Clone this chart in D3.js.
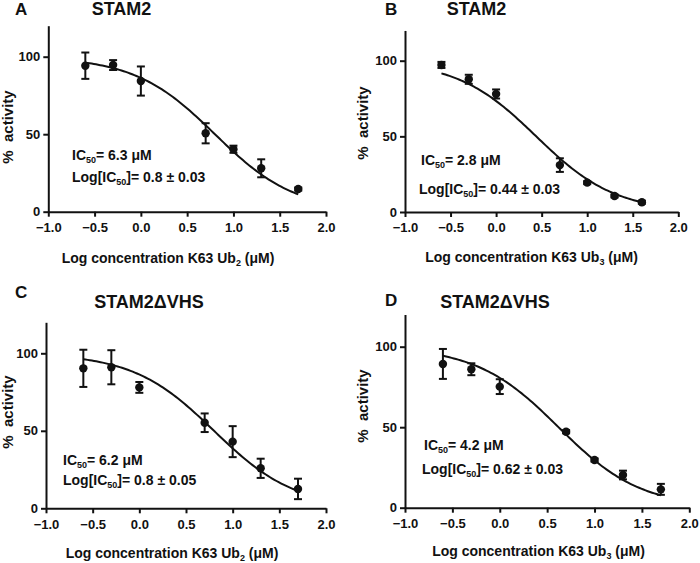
<!DOCTYPE html>
<html>
<head>
<meta charset="utf-8">
<script src="https://cdn.jsdelivr.net/npm/d3@7"></script>
<style>
  body { margin: 0; background: #fff; }
  text { font-family: "Liberation Sans", Arial, sans-serif; font-weight: bold; fill: #111; }
</style>
</head>
<body>
<div id="chart"></div>
<script>
// Dose-response panels (% activity vs log concentration)
const panelLetters = ["A", "B", "C", "D"];
const panelTitles = ["STAM2", "STAM2", "STAM2\u0394VHS", "STAM2\u0394VHS"];
const ubSub = ["2", "3", "2", "3"];

const xTicks = [-1.0, -0.5, 0.0, 0.5, 1.0, 1.5, 2.0];
const yTicks = [0, 50, 100];

const logConcA = [-0.6, -0.3, 0.0, 0.7, 1.0, 1.3, 1.7];
const logConcB = [-0.6, -0.3, 0.0, 0.7, 1.0, 1.3, 1.6];
const logConcC = [-0.6, -0.3, 0.0, 0.7, 1.0, 1.3, 1.7];
const logConcD = [-0.6, -0.3, 0.0, 0.7, 1.0, 1.3, 1.7];

const activityA = [94.2, 94.6, 84.3, 50.6, 40.3, 28.0, 14.6];
const activityB = [97.2, 87.7, 78.0, 31.0, 19.4, 10.6, 6.4];
const activityC = [90.3, 91.0, 78.0, 55.2, 43.0, 25.8, 12.5];
const activityD = [89.3, 86.0, 75.2, 47.2, 29.6, 20.3, 11.4];

const errA = [8.5, 3.2, 9.4, 6.5, 2.3, 5.8, 1.0];
const errB = [2.0, 3.0, 3.0, 4.5, 1.0, 1.0, 1.0];
const errC = [12.0, 11.0, 3.5, 6.0, 10.0, 6.2, 6.6];
const errD = [9.3, 3.7, 4.6, 1.0, 1.0, 2.7, 3.4];

// fitted curve parameters (top, bottom, hill slope, log IC50)
const fitTop = [100, 100, 100, 100];
const fitBottom = [0, 0, 0, 0];
const fitHill = [1, 1, 1, 1];
const logIC50 = [0.8, 0.44, 0.8, 0.62];

const ic50Label = ["6.3", "2.8", "6.2", "4.2"];
const logIC50Label = ["0.8 \u00b1 0.03", "0.44 \u00b1 0.03", "0.8 \u00b1 0.05", "0.62 \u00b1 0.03"];

const allX = [logConcA, logConcB, logConcC, logConcD];
const allY = [activityA, activityB, activityC, activityD];
const allErr = [errA, errB, errC, errD];

// panel frames in page pixels
const frames = [
  {x0: 48.3, x1: 326, y0: 211.7, k: 1.55, ylab: [13, 127], letter: [15, 15], title: [121.5, 15],
   xt: [168, 263], ic: [72, 160], lg: [72, 182]},
  {x0: 405, x1: 678.3, y0: 212, k: 1.513, ylab: [368, 123], letter: [385, 15], title: [476.5, 15],
   xt: [531.5, 262], ic: [421, 165], lg: [419, 194]},
  {x0: 46, x1: 326, y0: 508.3, k: 1.55, ylab: [13, 412], letter: [15, 298], title: [149, 308],
   xt: [172, 558], ic: [63, 465], lg: [63, 485]},
  {x0: 405, x1: 689.3, y0: 507.7, k: 1.61, ylab: [368, 406], letter: [385, 306], title: [495, 308],
   xt: [538.5, 556], ic: [424, 450], lg: [422, 474]}
];

const width = 700, height = 563;
const svg = d3.select("#chart").append("svg")
  .attr("width", width).attr("height", height);

frames.forEach((f, i) => {
  const x = d3.scaleLinear().domain([-1, 2]).range([f.x0, f.x1]);
  const y = d3.scaleLinear().domain([0, 120]).range([f.y0, f.y0 - 120 * f.k]);
  const g = svg.append("g");

  // axes
  const xAxis = g.append("g")
    .attr("transform", `translate(0,${f.y0})`)
    .call(d3.axisBottom(x).tickValues(xTicks).tickFormat(d3.format(".1f")).tickSize(5).tickSizeOuter(0));
  const yAxis = g.append("g")
    .attr("transform", `translate(${f.x0},0)`)
    .call(d3.axisLeft(y).tickValues(yTicks).tickSize(5).tickSizeOuter(0));
  [xAxis, yAxis].forEach(a => {
    a.select(".domain").attr("stroke", "#111").attr("stroke-width", 2);
    a.selectAll(".tick line").attr("stroke", "#111").attr("stroke-width", 2);
    a.selectAll(".tick text").style("font-size", "13px").attr("fill", "#111");
  });
  xAxis.selectAll(".tick text").attr("dy", "0.95em");

  // fitted curve
  const xs = allX[i];
  const curveX = d3.range(0, 101).map(j => xs[0] + (xs[xs.length - 1] - xs[0]) * j / 100);
  const fit = v => fitBottom[i] + (fitTop[i] - fitBottom[i]) / (1 + Math.pow(10, (v - logIC50[i]) * fitHill[i]));
  g.append("path")
    .datum(curveX)
    .attr("d", d3.line().x(d => x(d)).y(d => y(fit(d))))
    .attr("fill", "none").attr("stroke", "#111").attr("stroke-width", 2);

  // error bars
  const pts = xs.map((v, j) => ({x: v, y: allY[i][j], e: allErr[i][j]}));
  const eb = g.selectAll(".eb").data(pts).enter().append("g");
  eb.append("line")
    .attr("x1", d => x(d.x)).attr("x2", d => x(d.x))
    .attr("y1", d => y(d.y - d.e)).attr("y2", d => y(d.y + d.e))
    .attr("stroke", "#111").attr("stroke-width", 2);
  [-1, 1].forEach(s => {
    eb.append("line")
      .attr("x1", d => x(d.x) - 4).attr("x2", d => x(d.x) + 4)
      .attr("y1", d => y(d.y + s * d.e)).attr("y2", d => y(d.y + s * d.e))
      .attr("stroke", "#111").attr("stroke-width", 2);
  });
  g.selectAll(".pt").data(pts).enter().append("circle")
    .attr("cx", d => x(d.x)).attr("cy", d => y(d.y)).attr("r", 4.2)
    .attr("fill", "#111");

  // labels
  g.append("text").attr("x", f.letter[0]).attr("y", f.letter[1])
    .style("font-size", "17px").text(panelLetters[i]);
  g.append("text").attr("x", f.title[0]).attr("y", f.title[1])
    .attr("text-anchor", "middle").style("font-size", "18px")
    .text(panelTitles[i]);

  g.append("text")
    .attr("transform", `translate(${f.ylab[0]},${f.ylab[1]}) rotate(-90)`)
    .attr("text-anchor", "middle").style("font-size", "15px")
    .style("white-space", "pre")
    .text("%  activity");

  const xt = g.append("text").attr("x", f.xt[0]).attr("y", f.xt[1])
    .attr("text-anchor", "middle").style("font-size", "14px");
  xt.append("tspan").text("Log concentration K63 Ub");
  xt.append("tspan").attr("dy", 3).style("font-size", "9px").text(ubSub[i]);
  xt.append("tspan").attr("dy", -3).text(" (\u03bcM)");

  const ic = g.append("text").attr("x", f.ic[0]).attr("y", f.ic[1]).style("font-size", "14px");
  ic.append("tspan").text("IC");
  ic.append("tspan").attr("dy", 3).style("font-size", "9px").text("50");
  ic.append("tspan").attr("dy", -3).text("= " + ic50Label[i] + " \u03bcM");

  const lg = g.append("text").attr("x", f.lg[0]).attr("y", f.lg[1]).style("font-size", "14px");
  lg.append("tspan").text("Log[IC");
  lg.append("tspan").attr("dy", 3).style("font-size", "9px").text("50");
  lg.append("tspan").attr("dy", -3).text("]= " + logIC50Label[i]);
});
</script>
</body>
</html>
